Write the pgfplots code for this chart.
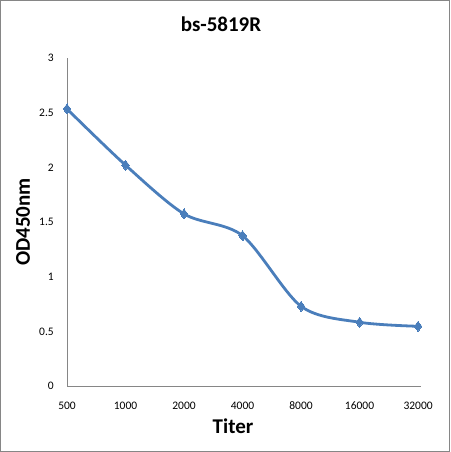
\documentclass[border=0pt]{standalone}
\usepackage{pgfplots}
\pgfplotsset{compat=1.18}
\usepackage{fontspec}
\setmainfont{Carlito}
\definecolor{xlblue}{HTML}{4A7EBB}
\definecolor{xlgray}{HTML}{868686}
\begin{document}
\begin{tikzpicture}[x=1pt,y=1pt]
\begin{axis}[
  scale only axis,
  width=354pt, height=328pt,
  at={(67pt,66pt)}, anchor=south west,
  xmin=0, xmax=6.05, ymin=0, ymax=3,
  axis x line=bottom, axis y line=left,
  x axis line style={-, xlgray, line width=0.9pt},
  y axis line style={-, xlgray, line width=0.9pt},
  xtick={0,1,2,3,4,5,6},
  xticklabels={500,1000,2000,4000,8000,16000,32000},
  ytick={0,0.5,1,1.5,2,2.5,3},
  major tick length=0pt,
  /pgf/number format/assume math mode=true,
  tick label style={font=\fontsize{11.5}{13}\selectfont, inner sep=0pt},
  xticklabel style={anchor=center, yshift=-20pt},
  yticklabel style={anchor=east, xshift=-13pt},
  title={\textbf{bs-5819R}},
  title style={at={(axis description cs:0.435,1.085)}, anchor=center, font=\fontsize{21}{24}\selectfont, inner sep=0pt},
  xlabel={\textbf{Titer}},
  xlabel style={at={(axis description cs:0.469,-0.124)}, anchor=center, font=\fontsize{21}{24}\selectfont, inner sep=0pt},
  ylabel={\textbf{OD450nm}},
  ylabel style={at={(axis description cs:-0.1243,0.5)}, anchor=center, rotate=0, font=\fontsize{21}{24}\selectfont, inner sep=0pt},
  clip=false,
]
\addplot[xlblue, line width=2.8pt, smooth, mark=diamond*, mark size=5pt, mark options={line width=0pt, fill=xlblue}]
  coordinates {(0,2.534) (1,2.02) (2,1.574) (3,1.375) (4,0.729) (5,0.583) (6,0.546)};
\end{axis}
\draw[xlgray, line width=1pt] (0.5,0.5) rectangle (449.5,451.5);
\pgfresetboundingbox
\useasboundingbox (0,0) rectangle (450,452);
\end{tikzpicture}
\end{document}
